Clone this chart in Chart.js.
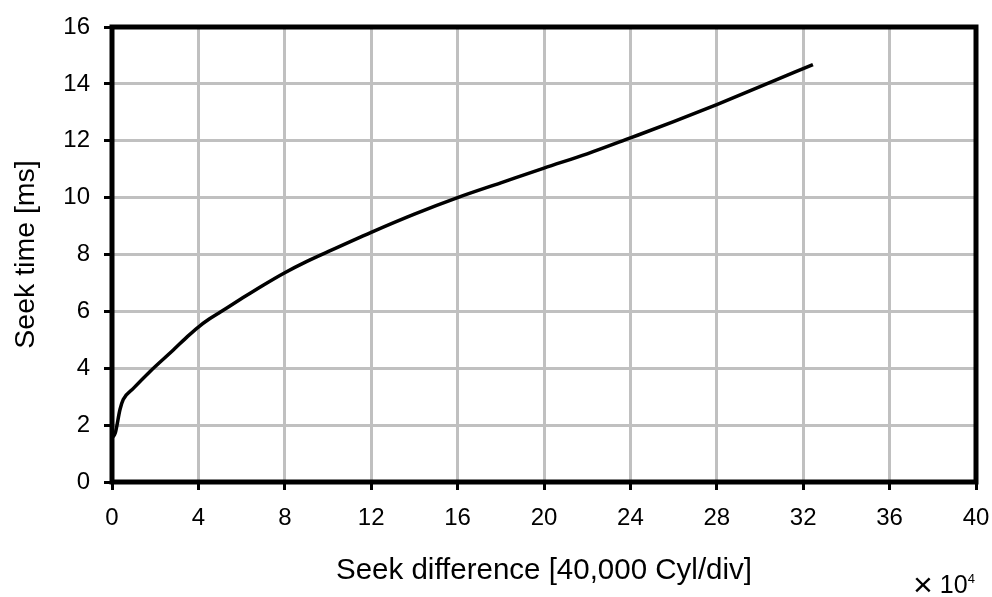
<!DOCTYPE html>
<html>
<head>
<meta charset="utf-8">
<script src="https://cdn.jsdelivr.net/npm/chart.js@4"></script>
<style>
  html, body { margin: 0; padding: 0; background: #fff; }
  #wrap { position: relative; width: 992px; height: 597px; }
  #exp { position: absolute; left: 913px; top: 570px; font: 25px "Liberation Sans", Arial, sans-serif; color: #000; white-space: nowrap; }
  #exp .times { font-size: 34px; line-height: 0; vertical-align: -3px; margin-right: 7px; }
  #exp sup { font-size: 13px; vertical-align: 10px; line-height: 0; }
</style>
</head>
<body>
<div id="wrap">
  <canvas id="seek_chart" width="992" height="597"></canvas>
  <div id="exp"><span class="times">×</span>10<sup>4</sup></div>
</div>
<script>
// seek difference in units of 10^4 cylinders, seek time in ms
const seekDiff = [0, 0.15, 0.37, 0.52, 1, 1.75, 2.85, 3.5, 4, 4.5, 5, 6, 7, 8, 9, 10, 12, 14, 16, 18, 20, 22, 24, 26, 28, 30, 32.45];
const seekTime = [1.55, 1.72, 2.55, 2.9, 3.3, 3.88, 4.65, 5.12, 5.45, 5.73, 5.97, 6.45, 6.92, 7.36, 7.75, 8.1, 8.78, 9.42, 10.0, 10.52, 11.04, 11.54, 12.1, 12.67, 13.27, 13.9, 14.68];
const xTitle = 'Seek difference [40,000 Cyl/div]';
const yTitle = 'Seek time [ms]';

const fontName = '"Liberation Sans", Arial, sans-serif';

// thick black frame round the plot area
const frame = {
    id: 'frame',
    afterDraw(chart) {
        const a = chart.chartArea;
        const ctx = chart.ctx;
        ctx.save();
        ctx.strokeStyle = '#000';
        ctx.lineWidth = 5;
        ctx.strokeRect(a.left, a.top, a.right - a.left, a.bottom - a.top);
        ctx.restore();
    }
};

new Chart(document.getElementById('seek_chart'), {
    type: 'scatter',
    data: {
        datasets: [{
            data: seekDiff.map((x, i) => ({x: x, y: seekTime[i]})),
            showLine: true,
            borderColor: '#000',
            borderWidth: 3.5,
            pointRadius: 0,
            cubicInterpolationMode: 'monotone'
        }]
    },
    plugins: [frame],
    options: {
        responsive: false,
        animation: false,
        layout: { padding: { left: 0, right: 16, top: 27, bottom: 0 } },
        plugins: { legend: { display: false }, tooltip: { enabled: false } },
        scales: {
            x: {
                type: 'linear',
                min: 0, max: 40,
                afterFit: s => { s.height = 115; s.paddingLeft = 0; s.paddingRight = 0; },
                ticks: { stepSize: 4, color: '#000', padding: 14, font: { family: fontName, size: 24 } },
                grid: { color: '#c0c0c0', lineWidth: 3, tickColor: '#000', tickLength: 8 },
                border: { display: false },
                title: { display: true, text: xTitle, color: '#000', font: { family: fontName, size: 29.5 }, padding: { top: 0, bottom: 8 } }
            },
            y: {
                min: 0, max: 16,
                afterFit: s => { s.width = 112; s.paddingTop = 0; s.paddingBottom = 0; },
                ticks: { stepSize: 2, color: '#000', padding: 14, font: { family: fontName, size: 24 } },
                grid: { color: '#c0c0c0', lineWidth: 3, tickColor: '#000', tickLength: 8 },
                border: { display: false },
                title: { display: true, text: yTitle, color: '#000', font: { family: fontName, size: 28.5 }, padding: { top: 9, bottom: 0 } }
            }
        }
    }
});
</script>
</body>
</html>
